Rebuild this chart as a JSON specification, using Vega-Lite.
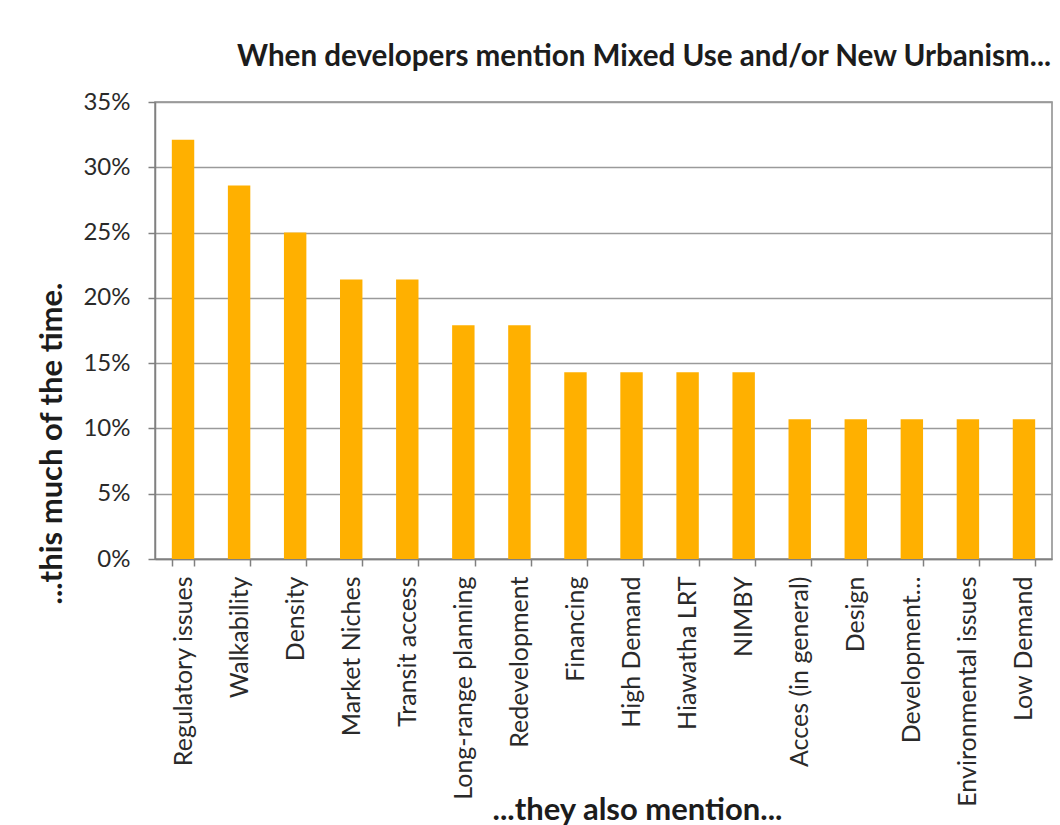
{
  "$schema": "https://vega.github.io/schema/vega-lite/v6.json",
  "width": 897,
  "height": 457,
  "autosize": {"type": "none"},
  "padding": {"left": 155, "top": 102, "right": 8, "bottom": 266},
  "background": "white",
  "title": {
    "text": "When developers mention Mixed Use and/or New Urbanism...",
    "anchor": "start",
    "frame": "group",
    "dx": 82,
    "offset": 17,
    "font": "Lato",
    "fontSize": 29.6,
    "fontWeight": "bold",
    "color": "#1c1c1c"
  },
  "data": {
    "values": [
      {"topic": "Regulatory issues", "share": 0.321},
      {"topic": "Walkability", "share": 0.286},
      {"topic": "Density", "share": 0.25},
      {"topic": "Market Niches", "share": 0.214},
      {"topic": "Transit access", "share": 0.214},
      {"topic": "Long-range planning", "share": 0.179},
      {"topic": "Redevelopment", "share": 0.179},
      {"topic": "Financing", "share": 0.143},
      {"topic": "High Demand", "share": 0.143},
      {"topic": "Hiawatha LRT", "share": 0.143},
      {"topic": "NIMBY", "share": 0.143},
      {"topic": "Acces (in general)", "share": 0.107},
      {"topic": "Design", "share": 0.107},
      {"topic": "Development…", "share": 0.107},
      {"topic": "Environmental issues", "share": 0.107},
      {"topic": "Low Demand", "share": 0.107}
    ]
  },
  "mark": {"type": "bar", "color": "#FFB000"},
  "encoding": {
    "x": {
      "field": "topic",
      "type": "nominal",
      "sort": null,
      "scale": {"paddingInner": 0.6, "paddingOuter": 0.3},
      "axis": {
        "title": "...they also mention...",
        "titleFont": "Lato",
        "titleFontSize": 31,
        "titleFontWeight": "bold",
        "titleColor": "#1c1c1c",
        "titleX": 482,
        "titleY": 251,
        "titleAlign": "center",
        "titleBaseline": "middle",
        "labelAngle": 270,
        "labelAlign": "right",
        "labelBaseline": "middle",
        "labelFont": "Lato",
        "labelFontSize": 25,
        "labelColor": "#2a2a2a",
        "labelPadding": 10,
        "labelLimit": 300,
        "tickBand": "extent",
        "tickSize": 7,
        "tickColor": "#808080",
        "tickWidth": 1.5,
        "domainColor": "#808080",
        "domainWidth": 1.5
      }
    },
    "y": {
      "field": "share",
      "type": "quantitative",
      "scale": {"domain": [0, 0.35], "nice": false},
      "axis": {
        "values": [0, 0.05, 0.1, 0.15, 0.2, 0.25, 0.3, 0.35],
        "format": ".0%",
        "title": "...this much of the time.",
        "titleFont": "Lato",
        "titleFontSize": 31,
        "titleFontWeight": "bold",
        "titleColor": "#1c1c1c",
        "titleAngle": 270,
        "titleX": -103,
        "titleY": 341,
        "titleAlign": "center",
        "titleBaseline": "middle",
        "labelFont": "Lato",
        "labelFontSize": 24,
        "labelColor": "#2a2a2a",
        "labelPadding": 18,
        "tickSize": 7,
        "tickColor": "#808080",
        "tickWidth": 1.5,
        "domainColor": "#808080",
        "domainWidth": 1.5,
        "grid": true,
        "gridColor": "#9a9a9a",
        "gridWidth": 1.5
      }
    }
  },
  "config": {
    "view": {"stroke": "#8a8a8a", "strokeWidth": 1.5}
  }
}
